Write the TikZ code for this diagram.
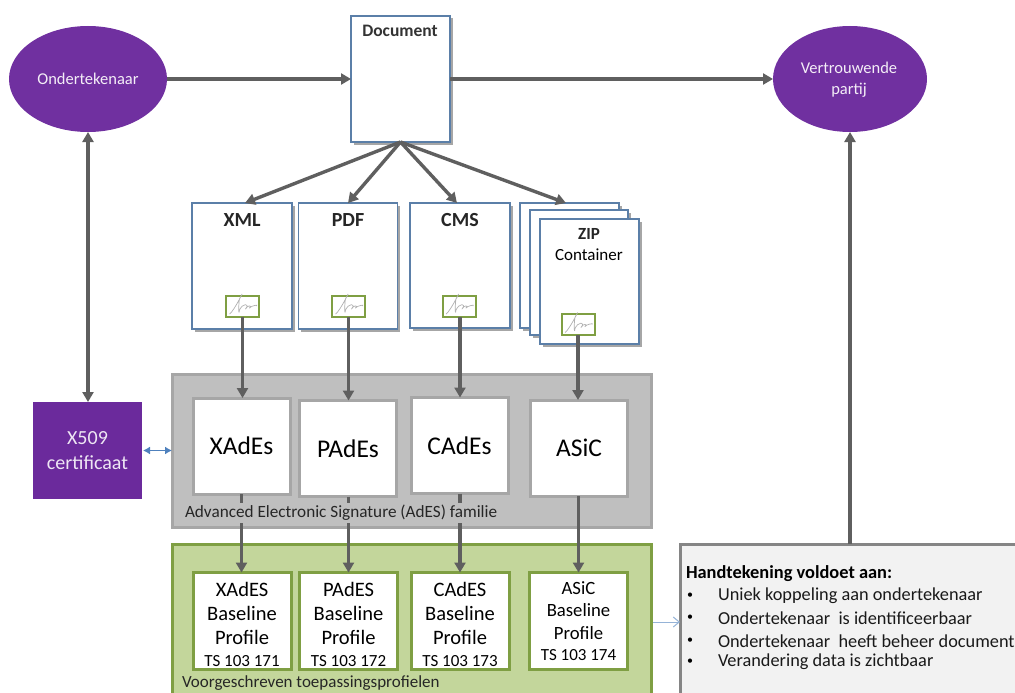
\documentclass[tikz,border=0pt]{standalone}
\usepackage{fontspec}
\setmainfont{Carlito}
\usetikzlibrary{arrows.meta,shadows,positioning,shapes.geometric}
\definecolor{purp}{HTML}{7030A0}
\definecolor{purd}{HTML}{6B2A9C}
\definecolor{blueb}{HTML}{5B7FA8}
\definecolor{conn}{HTML}{5F5F5F}
\definecolor{grayfill}{HTML}{BFBFBF}
\definecolor{grayline}{HTML}{A6A6A6}
\definecolor{greenfill}{HTML}{C3D69B}
\definecolor{greenline}{HTML}{7F9F43}
\definecolor{bluearr}{HTML}{4F81BD}
\definecolor{lightarr}{HTML}{95B3D7}
\tikzset{
  base/.style={inner sep=0pt,outer sep=0pt,align=center},
  ell/.style={base,ellipse,fill=purp,text=white!92!purp,font=\fontsize{16.5}{21}\selectfont},
  doc/.style={base,rectangle,draw=blueb,line width=1.3pt,fill=white,
    drop shadow={shadow xshift=2.5pt,shadow yshift=-2.5pt,opacity=.35,fill=black,draw=none}},
  sigbox/.style={base,rectangle,draw=greenline,line width=2pt,fill=white,minimum width=33pt,minimum height=21pt},
  family/.style={base,rectangle,draw=grayline,line width=3pt,fill=white,minimum width=97pt,minimum height=96pt,font=\fontsize{25.5}{28}\selectfont},
  profile/.style={base,rectangle,draw=greenline,line width=3pt,fill=white,minimum width=98pt,minimum height=97pt},
  ptext/.style={base,font=\fontsize{20.5}{24}\selectfont},
  qtext/.style={base,font=\fontsize{18.7}{22.5}\selectfont},
  arr/.style={draw=conn,line width=3.4pt,-{Triangle[length=10pt,width=11pt]}},
  darr/.style={draw=conn,line width=3.4pt,{Triangle[length=10pt,width=11pt]}-{Triangle[length=10pt,width=11pt]}},
  txt/.style={base,text=black},
  btitle/.style={base,font=\fontsize{20}{22}\bfseries\selectfont,text=black!85},
  listitem/.style={base,anchor=west,font=\fontsize{18.3}{20}\selectfont,text=black!90},
}
\newcommand{\scribble}[1]{%
  \draw[gray!60,line width=.7pt,line join=round]
    ([shift={(-13pt,-8pt)}]#1.center) .. controls +(5pt,3pt) and +(8pt,16pt) .. ([shift={(-3pt,7pt)}]#1.center)
    .. controls +(-1pt,-4pt) and +(-1pt,-8pt) .. ([shift={(-3pt,-4pt)}]#1.center)
    .. controls +(3pt,7pt) and +(5pt,6pt) .. ([shift={(3pt,-3pt)}]#1.center)
    .. controls +(2pt,4pt) and +(3pt,3pt) .. ([shift={(7pt,-2pt)}]#1.center)
    .. controls +(1pt,2pt) and +(3pt,2pt) .. ([shift={(14pt,0pt)}]#1.center);}
\newcommand{\tsline}[1]{{\fontsize{17}{20}\selectfont #1}}
\begin{document}
\begin{tikzpicture}[x=1pt,y=-1pt]
\useasboundingbox (0,0) rectangle (1015,693);
\clip (0,0) rectangle (1015,693);
% containers
\node[base,rectangle,draw=grayline,line width=3pt,fill=grayfill,minimum width=479pt,minimum height=153pt] (fam) at (411.5,450.5) {};
\node[base,rectangle,draw=greenline,line width=3pt,fill=greenfill,minimum width=479pt,minimum height=180pt] (gr) at (411.5,634) {};
\node[base,rectangle,draw=grayline!80!black,line width=3pt,fill=black!5,minimum width=400pt,minimum height=180pt] (hand) at (880,634) {};
% ellipses
\node[ell,minimum width=158pt,minimum height=106pt] (ond) at (88,79) {Ondertekenaar};
\node[ell,minimum width=154pt,minimum height=106pt] (vert) at (850,79) {};
\node[base,text=white!92!purp,font=\fontsize{16.5}{21}\selectfont] (vertt) at (849,80) {Vertrouwende\\partij};
% documents
\node[doc,minimum width=99pt,minimum height=126pt] (document) at (400.5,79) {};
\node[base,font=\fontsize{17.5}{20}\bfseries\selectfont,text=black!80] (doct) at (400,31) {Document};
\node[doc,minimum width=100pt,minimum height=126pt] (xml) at (242,266) {};
\node[doc,minimum width=99pt,minimum height=126pt] (pdf) at (348,266) {};
\node[doc,minimum width=100pt,minimum height=125pt] (cms) at (460,265.5) {};
\node[doc,minimum width=99pt,minimum height=125pt] (zipa) at (569.5,265.5) {};
\node[doc,minimum width=98pt,minimum height=125pt] (zipb) at (579,272.5) {};
\node[doc,minimum width=99pt,minimum height=125pt] (zipc) at (589.5,281.5) {};
\node[btitle] (xmlt) at (242,220) {XML};
\node[btitle] (pdft) at (348,220) {PDF};
\node[btitle] (cmst) at (460,220) {CMS};
\node[btitle,font=\fontsize{17}{20}\bfseries\selectfont] (zipt) at (589,234) {ZIP};
\node[txt,font=\fontsize{17}{20}\selectfont] (zipu) at (589,255) {Container};
% signature boxes
\node[sigbox] (sx) at (242.5,306) {}; \scribble{sx}
\node[sigbox] (sp) at (348.5,306) {}; \scribble{sp}
\node[sigbox] (sc) at (459,306) {}; \scribble{sc}
\node[sigbox] (sz) at (578,324.5) {}; \scribble{sz}
% families
\node[family] (xades) at (241.5,446) {XAdEs};
\node[family] (pades) at (348,448.5) {PAdEs};
\node[family] (cades) at (459.5,445.5) {CAdEs};
\node[family] (asic) at (579,448) {ASiC};
% profiles
\node[profile] (px) at (242,621) {};
\node[profile] (pp) at (348.5,621) {};
\node[profile] (pc) at (460,621) {};
\node[profile] (pa) at (578.5,621) {};
\node[ptext] (pxt) at (242,624) {XAdES\\Baseline\\Profile\\[-2pt]\tsline{TS 103 171}};
\node[ptext] (ppt) at (348.5,624) {PAdES\\Baseline\\Profile\\[-2pt]\tsline{TS 103 172}};
\node[ptext] (pct) at (460,624) {CAdES\\Baseline\\Profile\\[-2pt]\tsline{TS 103 173}};
\node[qtext] (pat) at (578.5,621) {ASiC\\Baseline\\Profile\\[-1pt]\tsline{TS 103 174}};
% certificate
\node[base,rectangle,fill=purd,text=white!88!purp,minimum width=109pt,minimum height=97pt,font=\fontsize{20}{25}\selectfont] (cert) at (87.5,450.5) {X509\\certificaat};
% connectors
\draw[arr] (ond.east) -- (document.west);
\draw[arr] (document.east) -- (vert.west);
\draw[darr] (ond.south) -- (ond.south |- cert.north);
\coordinate (fan) at (document.south);
\draw[arr] (fan) -- ([xshift=3pt]xml.north);
\draw[arr] (fan) -- (pdf.north);
\draw[arr] (fan) -- ([xshift=-3pt]cms.north);
\draw[arr] (fan) -- ([xshift=-3.5pt]zipa.north);
\draw[arr] (sx.south) -- (sx.south |- xades.north);
\draw[arr] (sp.south) -- (sp.south |- pades.north);
\draw[arr] ([xshift=1pt]sc.south) -- ([xshift=1pt]sc.south |- cades.north);
\draw[arr] (sz.south) -- (sz.south |- asic.north);
\draw[arr] (xades.south) -- (xades.south |- px.north);
\draw[arr] (pp.north |- pades.south) -- (pp.north);
\draw[arr] (pc.north |- cades.south) -- (pc.north);
\draw[arr] (pa.north |- asic.south) -- (pa.north);
\draw[arr] (hand.north -| vert.south) -- (vert.south);
\draw[draw=bluearr,line width=1.3pt,{Latex[length=7pt,width=8pt]}-{Latex[length=7pt,width=8pt]}] ([xshift=1pt]cert.east) -- (cert.east -| fam.west);
\coordinate (gg) at (653,622);
\draw[draw=lightarr,line width=1pt,-{Straight Barb[length=6pt,width=10pt]}] (gg) -- (hand.west |- gg);
% captions
\node[base,anchor=west,fill=grayfill,inner xsep=1pt,inner ysep=2pt,font=\fontsize{17.2}{19}\selectfont,text=black!85] (famt) at (184,513) {Advanced Electronic Signature (AdES) familie};
\node[base,anchor=west,font=\fontsize{17}{19}\selectfont,text=black!85] (grt) at (182,683) {Voorgeschreven toepassingsprofielen};
% requirement list
\node[base,anchor=west,font=\fontsize{18.4}{20}\bfseries\selectfont] (h0) at (686,574) {Handtekening voldoet aan:};
\newcommand{\bul}[3]{\node[base,anchor=west,font=\fontsize{12}{14}\selectfont] (#1b) at (687,#2) {•};
  \node[listitem] (#1) at (718,#2) {#3};}
\bul{h1}{596}{Uniek koppeling aan ondertekenaar}
\bul{h2}{618}{Ondertekenaar\ \ is identificeerbaar}
\bul{h3}{641}{Ondertekenaar\ \ heeft beheer document}
\bul{h4}{662}{Verandering data is zichtbaar}
\end{tikzpicture}
\end{document}
